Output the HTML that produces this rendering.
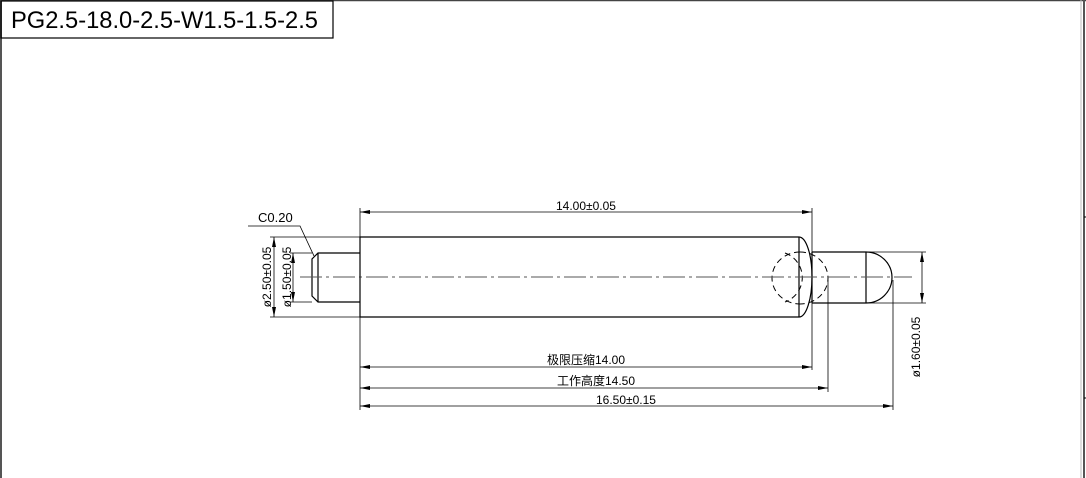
<!DOCTYPE html>
<html><head><meta charset="utf-8"><style>
html,body{margin:0;padding:0;background:#fff;}
svg{display:block;}
text{font-family:"Liberation Sans","Noto Sans CJK SC",sans-serif;fill:#000;}
</style></head><body>
<svg width="1086" height="478" viewBox="0 0 1086 478" xmlns="http://www.w3.org/2000/svg">
<defs>
<marker id="a" viewBox="0 0 10 4" refX="10" refY="2" markerWidth="10" markerHeight="4" markerUnits="userSpaceOnUse" orient="auto-start-reverse"><path d="M0,0 L10,2 L0,4z" fill="#000"/></marker>
</defs>
<line x1="0" y1="0.5" x2="1086" y2="0.5" stroke="#444" stroke-width="1.5"/>
<line x1="1" y1="0" x2="1" y2="478" stroke="#555" stroke-width="2"/>
<line x1="1084" y1="0" x2="1084" y2="478" stroke="#555" stroke-width="2"/>
<line x1="1081" y1="0" x2="1081" y2="478" stroke="#bbb" stroke-width="1"/>
<line x1="1084" y1="217" x2="1086" y2="217" stroke="#000"/>
<line x1="1084" y1="398" x2="1086" y2="398" stroke="#000"/>
<rect x="1" y="1" width="332" height="37" fill="none" stroke="#000" stroke-width="1.2"/>
<text x="11" y="28" font-size="24" textLength="307" lengthAdjust="spacingAndGlyphs">PG2.5-18.0-2.5-W1.5-1.5-2.5</text>

<g stroke="#000" stroke-width="1.2" fill="none">
<path d="M360,237 H799 A13,40 0 0 1 799,317 H360 Z"/>
<line x1="799" y1="237" x2="799" y2="317"/>
<path d="M360,253 H318 L312,259 V296 L318,302 H360"/>
<line x1="318" y1="253" x2="318" y2="302"/>
<path d="M812,252 H866 A26,25.5 0 0 1 866,303 H812"/>
<line x1="866" y1="252" x2="866" y2="303"/>
<line x1="812" y1="252" x2="812" y2="303"/>
</g>
<g stroke="#000" stroke-width="1" fill="none" stroke-dasharray="6,4">
<path d="M785,253 A26,26 0 0 1 785,302"/>
<path d="M800,252 A28,26 0 0 1 800,304"/>
<path d="M800,252 A28,26 0 0 0 800,304"/>
</g>
<line x1="300" y1="277" x2="912" y2="277" stroke="#555" stroke-width="1" stroke-dasharray="22,4,3,4"/>

<g stroke="#000" stroke-width="0.8" fill="none">
<line x1="360" y1="208" x2="360" y2="410"/>
<line x1="812" y1="208" x2="812" y2="252"/>
<line x1="812" y1="303" x2="812" y2="370"/>
<line x1="828" y1="280" x2="828" y2="392"/>
<line x1="893" y1="280" x2="893" y2="410"/>
<line x1="866" y1="252" x2="926" y2="252"/>
<line x1="866" y1="303" x2="926" y2="303"/>
<line x1="270" y1="237" x2="360" y2="237"/>
<line x1="270" y1="317" x2="360" y2="317"/>
<line x1="290" y1="253" x2="312" y2="253"/>
<line x1="290" y1="302" x2="312" y2="302"/>
<line x1="360" y1="212" x2="812" y2="212" marker-start="url(#a)" marker-end="url(#a)"/>
<line x1="360" y1="367" x2="812" y2="367" marker-start="url(#a)" marker-end="url(#a)"/>
<line x1="360" y1="388" x2="828" y2="388" marker-start="url(#a)" marker-end="url(#a)"/>
<line x1="360" y1="406" x2="893" y2="406" marker-start="url(#a)" marker-end="url(#a)"/>
<line x1="274" y1="237" x2="274" y2="317" marker-start="url(#a)" marker-end="url(#a)"/>
<line x1="293" y1="253" x2="293" y2="302" marker-start="url(#a)" marker-end="url(#a)"/>
<line x1="922" y1="252" x2="922" y2="303" marker-start="url(#a)" marker-end="url(#a)"/>
<polyline points="248,226 300,226 314,256"/>
</g>
<g font-size="12">
<text x="586" y="210" text-anchor="middle">14.00±0.05</text>
<text x="586" y="364" text-anchor="middle">极限压缩14.00</text>
<text x="596" y="385" text-anchor="middle">工作高度14.50</text>
<text x="626" y="404" text-anchor="middle">16.50±0.15</text>
<text x="258" y="222" font-family="Liberation Mono,monospace" font-size="13">C0.20</text>
<text transform="translate(271,277) rotate(-90)" text-anchor="middle">ø2.50±0.05</text>
<text transform="translate(291,277) rotate(-90)" text-anchor="middle">ø1.50±0.05</text>
<text transform="translate(920,347) rotate(-90)" text-anchor="middle">ø1.60±0.05</text>
</g>
</svg>
</body></html>
